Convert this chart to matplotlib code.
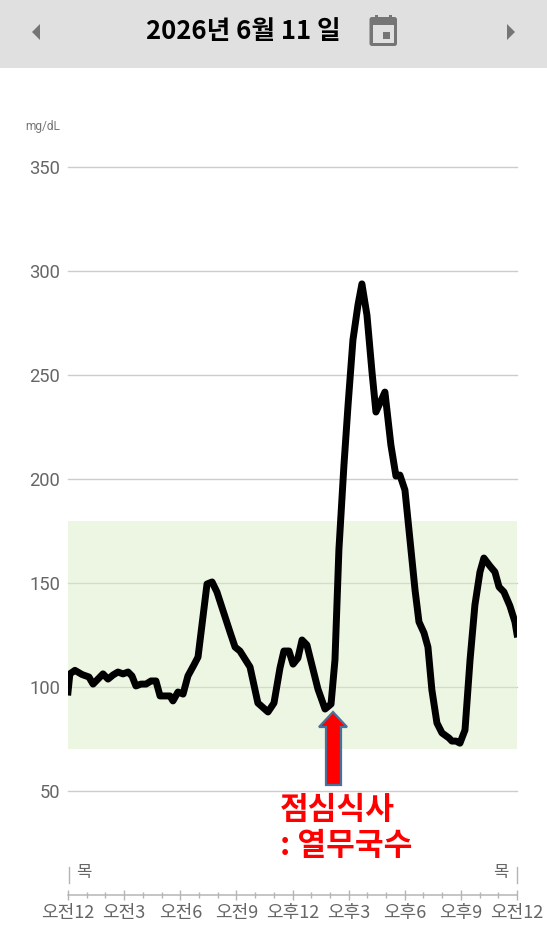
import matplotlib
matplotlib.use("Agg")
import matplotlib.pyplot as plt
from matplotlib.patches import Rectangle, Polygon, FancyBboxPatch

KR = ['Noto Sans CJK KR', 'DejaVu Sans']
plt.rcParams['font.family'] = ['Roboto', 'Noto Sans CJK KR', 'DejaVu Sans']

hours = [0, .1, .37, .75, 1.12, 1.34, 1.71, 1.87, 2.14, 2.41, 2.67, 2.94, 3.21, 3.42, 3.63, 3.9, 4.17, 4.44, 4.7,
         4.92, 5.18, 5.45, 5.61, 5.88, 6.15, 6.41, 6.73, 6.95, 7.43, 7.7, 7.96, 8.66, 8.93, 9.19, 9.73, 10.15,
         10.69, 11.01, 11.33, 11.54, 11.81, 12.03, 12.29, 12.51, 12.77, 13.36, 13.74, 14.06, 14.27, 14.48, 14.75,
         14.97, 15.23, 15.5, 15.71, 15.98, 16.25, 16.46, 16.94, 17.26, 17.53, 17.74, 18.01, 18.28, 18.55, 18.76,
         19.03, 19.24, 19.45, 19.72, 19.99, 20.36, 20.52, 20.74, 20.95, 21.22, 21.49, 21.75, 22.02, 22.23, 22.55,
         22.82, 23.04, 23.3, 23.62, 23.89, 24]
glucose = [97.6, 106.3, 108, 106, 104.8, 101.4, 104.8, 106.3, 103.8, 105.8, 107.2, 106.3, 107.2, 105.3, 100.5, 101.4,
           101.4, 102.9, 102.9, 95.7, 95.7, 95.7, 93.3, 97.6, 96.6, 105.3, 110.6, 114.4, 149.5, 150.5, 145.7, 126.4,
           119.2, 117.3, 109.6, 92.3, 88, 92.3, 109.1, 117.3, 117.3, 111, 113.9, 122.6, 120.2, 99, 89.4, 91.8, 113,
           165.9, 206.7, 235.6, 266.8, 283.7, 293.8, 278.8, 251.4, 232.2, 241.8, 216.3, 201.4, 201.9, 194.7, 170.7,
           146.6, 131.3, 126, 119.2, 98.6, 82.7, 77.9, 75.5, 74, 74, 73, 79.3, 113, 139.4, 155.3, 162, 158.2, 155.3,
           148.1, 145.7, 139, 131.3, 125.5]
y_ticks = [50, 100, 150, 200, 250, 300, 350]
target_low, target_high = 70, 180
x_major = [0, 3, 6, 9, 12, 15, 18, 21, 24]
x_labels = ['오전12', '오전3', '오전6', '오전9', '오후12', '오후3', '오후6', '오후9', '오전12']
x_minor = list(range(25))
title = '2026년 6월 11 일'
note_lines = ['점심식사', ': 열무국수']
day_label = '목'

W, H = 547, 927
fig = plt.figure(figsize=(W / 100, H / 100), dpi=100, facecolor='white')

def box(x0, y0, x1, y1):
    return [x0 / W, 1 - y1 / H, (x1 - x0) / W, (y1 - y0) / H]

GREY = '#757575'

# main chart
ax = fig.add_axes(box(68, 167, 517, 791))
ax.set_xlim(0, 24)
ax.set_ylim(50, 350)
ax.set_yticks(y_ticks)
ax.set_xticks([])
ax.grid(axis='y', color='#cccccc', lw=1.0, zorder=1, clip_on=False)
ax.set_axisbelow(True)
ax.axhspan(target_low, target_high, color='#dcedc8', alpha=.5, lw=0, zorder=2)
ax.plot(hours, glucose, color='black', lw=5.0, solid_joinstyle='round', zorder=3)
ax.tick_params(axis='y', length=0, pad=5.8, labelsize=13.2, labelcolor='#666666')
for s in ax.spines.values():
    s.set_visible(False)
ax.patch.set_alpha(0)

# time axis
axt = fig.add_axes(box(68, 894, 517, 894.5))
axt.set_xlim(0, 24)
axt.set_yticks([])
axt.set_xticks(x_major)
axt.set_xticklabels(x_labels, family=KR, fontsize=13, color='#666666')
axt.set_xticks(x_minor, minor=True)
axt.tick_params(axis='x', which='major', direction='inout', length=7, width=1, color='#b5b5b5', pad=3)
axt.tick_params(axis='x', which='minor', direction='inout', length=4, width=1, color='#b5b5b5')
for k, s in axt.spines.items():
    s.set_visible(k == 'bottom')
axt.spines['bottom'].set_color('#b5b5b5')
axt.spines['bottom'].set_linewidth(1.1)
axt.patch.set_alpha(0)

# overlay in pixel coordinates
o = fig.add_axes([0, 0, 1, 1], zorder=5)
o.set_xlim(0, W)
o.set_ylim(H, 0)
o.axis('off')
o.patch.set_alpha(0)

o.add_patch(Rectangle((0, 0), W, 67.5, fc='#e0e0e0', lw=0))
o.text(243, 31, title, family=KR, fontsize=18.5, fontweight='bold', color='black', ha='center', va='center')
o.add_patch(Polygon([(40, 24), (40, 40), (32, 32)], fc=GREY, lw=0))
o.add_patch(Polygon([(507, 24), (507, 40), (515, 32)], fc=GREY, lw=0))
o.add_patch(FancyBboxPatch((369.5, 17), 27.5, 29, boxstyle='round,pad=0,rounding_size=2.5', fc=GREY, lw=0))
o.add_patch(Rectangle((373, 25), 20.5, 17.5, fc='#e0e0e0', lw=0))
o.add_patch(Rectangle((375, 14.5), 3, 5, fc=GREY, lw=0))
o.add_patch(Rectangle((389, 14.5), 3, 5, fc=GREY, lw=0))
o.add_patch(Rectangle((383, 32), 7, 7, fc=GREY, lw=0))

o.text(60, 126, 'mg/dL', fontsize=8.6, color=GREY, ha='right', va='center')

o.plot([68.5, 68.5], [867, 883], color='#b5b5b5', lw=1)
o.plot([516.5, 516.5], [867, 883], color='#b5b5b5', lw=1)
o.text(76, 873, day_label, family=KR, fontsize=12, color='#666666', ha='left', va='center')
o.text(509, 873, day_label, family=KR, fontsize=12, color='#666666', ha='right', va='center')

o.add_patch(Polygon([(333, 712), (347, 727), (341, 727), (341, 785), (326, 785), (326, 727), (319, 727)],
                    fc='#ff0000', ec='#4a7299', lw=1.6, joinstyle='miter'))

o.text(280, 810, note_lines[0], family=KR, fontsize=22.5, fontweight='bold', color='#ff0000', ha='left', va='center')
o.text(280, 846, note_lines[1], family=KR, fontsize=22.5, fontweight='bold', color='#ff0000', ha='left', va='center')

fig.savefig('out.png', dpi=100)
